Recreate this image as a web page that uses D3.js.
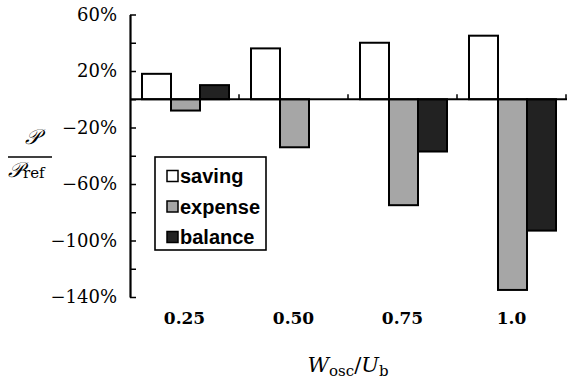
<!DOCTYPE html>
<html>
<head>
<meta charset="utf-8">
<script src="https://cdn.jsdelivr.net/npm/d3@7"></script>
<style>
  body { margin: 0; background: #fff; }
  svg { display: block; }
</style>
</head>
<body>
<svg id="chart" width="568" height="389"></svg>
<script>
// data (percent of P_ref)
const groups = ["0.25", "0.50", "0.75", "1.0"];
const seriesNames = ["saving", "expense", "balance"];
const saving = [18, 36, 40, 45];
const expense = [-8, -34, -75, -135];
const balance = [10, 0, -37, -93];
const yTicks = [60, 40, 20, 0, -20, -40, -60, -80, -100, -120, -140];
const yLabelled = [60, 20, -20, -60, -100, -140];

const width = 568, height = 389;
const plot = { left: 130, right: 566, top: 14.5, bottom: 297 };
const values = { saving, expense, balance };
const colors = { saving: "#ffffff", expense: "#a6a6a6", balance: "#222222" };

const svg = d3.select("#chart");

const x = d3.scaleBand().domain(groups).range([plot.left, plot.right]);
const xs = d3.scaleBand().domain(seriesNames).range([12, 99]);
const y = d3.scaleLinear().domain([-140, 60]).range([plot.bottom, plot.top]);

// bars
const rows = [];
groups.forEach((g, i) => {
  seriesNames.forEach(s => rows.push({ g, s, v: values[s][i] }));
});

svg.append("g").selectAll("rect")
  .data(rows.filter(d => d.v !== 0))
  .join("rect")
    .attr("x", d => x(d.g) + xs(d.s))
    .attr("y", d => y(Math.max(0, d.v)))
    .attr("width", xs.bandwidth())
    .attr("height", d => Math.abs(y(d.v) - y(0)))
    .attr("fill", d => colors[d.s])
    .attr("stroke", "#000")
    .attr("stroke-width", 2);

// zero line with small ticks between groups
svg.append("line")
  .attr("x1", plot.left).attr("x2", plot.right + 1)
  .attr("y1", y(0)).attr("y2", y(0))
  .attr("stroke", "#000").attr("stroke-width", 2);

svg.append("g").selectAll("line")
  .data(groups)
  .join("line")
    .attr("x1", d => x(d) + x.step()).attr("x2", d => x(d) + x.step())
    .attr("y1", y(0)).attr("y2", y(0) - 5)
    .attr("stroke", "#000").attr("stroke-width", 1.5);

// y axis, ticks pointing inwards
const yAxis = svg.append("g")
  .attr("transform", `translate(${plot.left},0)`)
  .call(d3.axisLeft(y)
    .tickValues(yTicks)
    .tickSizeInner(-6)
    .tickSizeOuter(0)
    .tickPadding(13)
    .tickFormat(d => yLabelled.includes(d) ? (d < 0 ? "\u2212" + (-d) : d) + "%" : ""));
yAxis.attr("font-family", null);
yAxis.select(".domain").attr("stroke-width", 2.2);
yAxis.selectAll(".tick line").attr("stroke-width", 1.5);
yAxis.selectAll("text")
  .attr("font-family", "DejaVu Serif")
  .attr("font-size", 18)
  .attr("fill", "#000");

// x axis labels
const xAxis = svg.append("g")
  .attr("transform", `translate(0,${plot.bottom})`)
  .call(d3.axisBottom(x).tickSize(0).tickPadding(15));
xAxis.attr("font-family", null);
xAxis.select(".domain").remove();
xAxis.selectAll("text")
  .attr("font-family", "DejaVu Serif")
  .attr("font-weight", "bold")
  .attr("font-size", 17)
  .attr("fill", "#000");

// x title  W_osc / U_b
const xt = svg.append("text")
  .attr("x", (plot.left + plot.right) / 2)
  .attr("y", 372)
  .attr("text-anchor", "middle")
  .attr("font-family", "DejaVu Serif")
  .attr("font-size", 21);
xt.append("tspan").attr("font-style", "italic").text("W");
xt.append("tspan").attr("font-size", 15).attr("dy", 4).text("osc");
xt.append("tspan").attr("dy", -4).text("/");
xt.append("tspan").attr("font-style", "italic").text("U");
xt.append("tspan").attr("font-size", 15).attr("dy", 4).text("b");

// y title as a fraction  P / P_ref
const yt = svg.append("g").attr("font-family", "DejaVu Serif");
yt.append("text")
  .attr("x", 32).attr("y", 144)
  .attr("text-anchor", "middle")
  .attr("font-size", 21)
  .attr("font-style", "italic")
  .text("\u{1D4AB}");
yt.append("line")
  .attr("x1", 8).attr("x2", 52)
  .attr("y1", 157).attr("y2", 157)
  .attr("stroke", "#000").attr("stroke-width", 1.3);
const den = yt.append("text")
  .attr("x", 8).attr("y", 177)
  .attr("font-size", 21)
  .attr("font-style", "italic");
den.append("tspan").text("\u{1D4AB}");
den.append("tspan").attr("font-style", "normal").attr("font-size", 15).attr("dy", 1).text("ref");

// legend
const legend = svg.append("g");
legend.append("rect")
  .attr("x", 155).attr("y", 157)
  .attr("width", 111).attr("height", 93)
  .attr("fill", "#fff")
  .attr("stroke", "#000").attr("stroke-width", 1.6);

const item = legend.selectAll("g.item")
  .data(seriesNames)
  .join("g")
    .attr("class", "item")
    .attr("transform", (d, i) => `translate(167,${176 + i * 30.5})`);
item.append("rect")
  .attr("x", 0).attr("y", -5.5)
  .attr("width", 11).attr("height", 11)
  .attr("fill", d => colors[d])
  .attr("stroke", "#000").attr("stroke-width", 1.5);
item.append("text")
  .attr("x", 13).attr("y", 0)
  .attr("dy", "0.36em")
  .attr("font-family", "Liberation Sans, Arial, sans-serif")
  .attr("font-weight", "bold")
  .attr("font-size", 20)
  .text(d => d);
</script>
</body>
</html>
